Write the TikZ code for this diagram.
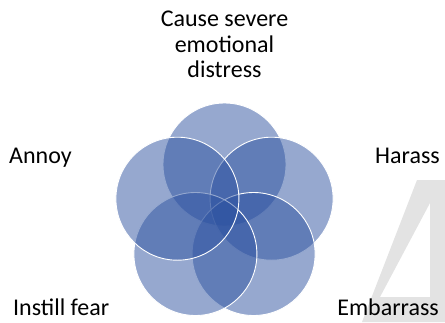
\documentclass[tikz,border=0pt]{standalone}
\usepackage{fontspec}
\setmainfont{Carlito}
\definecolor{vennblue}{RGB}{45,82,160}
\definecolor{wmgray}{RGB}{227,227,227}
\begin{document}
\begin{tikzpicture}[x=1pt,y=-1pt,
  venn/.style={fill=vennblue,fill opacity=0.5,draw=white,line width=0.9pt},
  lbl/.style={inner sep=0pt,font=\fontsize{24}{25.5}\selectfont,text=black}]
\useasboundingbox (0,0) rectangle (445,322);
% watermark
\fill[wmgray,even odd rule] (417,180) -- (445,180) -- (445,322) -- (362,322) -- cycle
  (430,203) -- (430,297) -- (380,297) -- cycle;
% circles
\coordinate (ctr) at (224.5,214);
\path (ctr) ++(0,-49.5) coordinate (cT);
\path (ctr) ++(47.1,-15.3) coordinate (cR);
\path (ctr) ++(29.1,40.0) coordinate (cBR);
\path (ctr) ++(-29.1,40.0) coordinate (cBL);
\path (ctr) ++(-47.1,-15.3) coordinate (cL);
\draw[venn] (cT) circle[radius=61.5pt];
\draw[venn] (cR) circle[radius=61.5pt];
\draw[venn] (cBR) circle[radius=61.5pt];
\draw[venn] (cBL) circle[radius=61.5pt];
\draw[venn] (cL) circle[radius=61.5pt];
% labels
\node[lbl,align=center,anchor=south] (tTop) at (224.5,78) {Cause severe\\emotional\\distress};
\node[lbl,anchor=base west] (tAnnoy) at (9,163) {Annoy};
\node[lbl,anchor=base east] (tHarass) at (440,163) {Harass};
\node[lbl,anchor=base west] (tFear) at (13,315) {Instill fear};
\node[lbl,anchor=base east] (tEmb) at (439,315) {Embarrass};
\end{tikzpicture}
\end{document}
